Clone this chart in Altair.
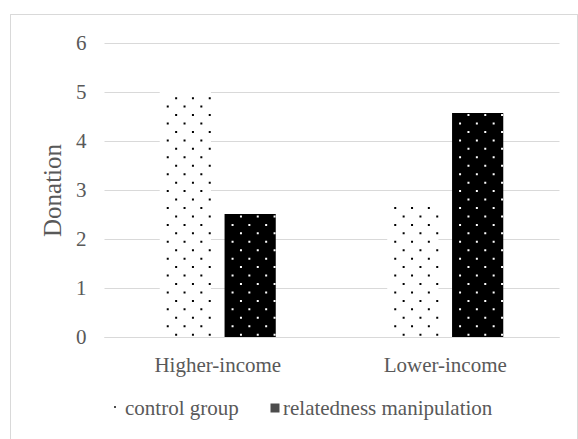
import altair as alt
import pandas as pd

# Mean donation by income group and condition
categories = ["Higher-income", "Lower-income"]
groups = ["control group", "relatedness manipulation"]
control_values = [5.02, 2.67]
relatedness_values = [2.51, 4.57]
y_ticks = [0, 1, 2, 3, 4, 5, 6]

FONT = "Liberation Serif"
TEXT_COLOR = "#595959"
LINE_COLOR = "#d9d9d9"
FONT_SIZE = 21
TITLE_SIZE = 25

bar_records = []
for i, cat in enumerate(categories):
    bar_records.append({"income": cat, "group": groups[0], "donation": control_values[i]})
    bar_records.append({"income": cat, "group": groups[1], "donation": relatedness_values[i]})
bars_df = pd.DataFrame(bar_records)

# Dotted fill pattern: staggered rows of small squares inside each bar.
DOT_FIRST = 0.047   # first dot row above the baseline (data units)
DOT_STEP = 0.1724   # vertical pitch of dot rows (data units)
dot_cols = [-17.6 + 8.4 * j for j in range(6)]  # pixel offsets from bar centre


def row_path(cols):
    return " ".join(f"M{c - 1:.1f},-1h2v2h-2z" for c in cols)


path_odd = row_path(dot_cols[1::2])
path_even = row_path(dot_cols[0::2])

dot_records = []
for rec in bar_records:
    r = 0
    while DOT_FIRST + r * DOT_STEP + 0.03 < rec["donation"]:
        dot_records.append({
            "income": rec["income"],
            "group": rec["group"],
            "level": DOT_FIRST + r * DOT_STEP,
            "row": "odd" if r % 2 == 0 else "even",
            "ink": "#000000" if rec["group"] == groups[0] else "#ffffff",
        })
        r += 1
dots_df = pd.DataFrame(dot_records)
legend_df = pd.DataFrame({"group": groups})

x_enc = alt.X(
    "income:N",
    sort=categories,
    scale=alt.Scale(paddingInner=0.49, paddingOuter=0.245),
    axis=alt.Axis(
        title=None, labelAngle=0, ticks=False, domainColor=LINE_COLOR,
        domainWidth=1, labelFont=FONT, labelFontSize=FONT_SIZE,
        labelColor=TEXT_COLOR, labelPadding=17, grid=False,
    ),
)
xoff_enc = alt.XOffset("group:N", sort=groups, scale=alt.Scale(paddingInner=0.21, paddingOuter=0))
y_scale = alt.Scale(domain=[0, 6], nice=False)

bars = alt.Chart(bars_df).mark_bar(strokeWidth=0).encode(
    x=x_enc,
    xOffset=xoff_enc,
    y=alt.Y(
        "donation:Q",
        scale=y_scale,
        axis=alt.Axis(
            title="Donation", values=y_ticks, format="d", ticks=False, domain=False,
            gridColor=LINE_COLOR, gridWidth=1, labelFont=FONT,
            labelFontSize=FONT_SIZE, labelColor=TEXT_COLOR, labelPadding=18,
            titleFont=FONT, titleFontSize=TITLE_SIZE, titleColor=TEXT_COLOR,
            titleFontWeight="normal", titlePadding=10,
        ),
    ),
    color=alt.Color(
        "group:N",
        sort=groups,
        scale=alt.Scale(domain=groups, range=["#ffffff", "#000000"]),
        legend=None,
    ),
)

dots = alt.Chart(dots_df).mark_point(filled=True, size=4, opacity=1, strokeWidth=0).encode(
    x=alt.X("income:N", sort=categories),
    xOffset=alt.XOffset("group:N", sort=groups),
    y=alt.Y("level:Q", scale=y_scale),
    shape=alt.Shape("row:N", scale=alt.Scale(domain=["odd", "even"], range=[path_odd, path_even]), legend=None),
    fill=alt.Fill("ink:N", scale=None),
)

# Legend row below the axis: a dot swatch for the control group,
# a solid swatch for the manipulation group.
legend_y = 366
key_control = alt.Chart(legend_df).transform_filter(
    alt.datum.group == groups[0]
).mark_square(size=4, filled=True, color="#000000", clip=False).encode(
    x=alt.value(11), y=alt.value(legend_y - 2),
)
key_related = alt.Chart(legend_df).transform_filter(
    alt.datum.group == groups[1]
).mark_square(size=81, filled=True, color="#000000", clip=False).encode(
    x=alt.value(171), y=alt.value(legend_y - 1),
)
label_style = dict(align="left", baseline="middle", font=FONT, fontSize=FONT_SIZE,
                   color=TEXT_COLOR, clip=False)
label_control = alt.Chart(legend_df).transform_filter(
    alt.datum.group == groups[0]
).mark_text(**label_style).encode(
    x=alt.value(21), y=alt.value(legend_y), text="group:N",
)
label_related = alt.Chart(legend_df).transform_filter(
    alt.datum.group == groups[1]
).mark_text(**label_style).encode(
    x=alt.value(179), y=alt.value(legend_y), text="group:N",
)

# Light frame around the whole figure
frame = alt.Chart(legend_df).mark_rect(
    fillOpacity=0, stroke=LINE_COLOR, strokeWidth=1, clip=False
).encode(
    x=alt.value(-93.5), x2=alt.value(473.5), y=alt.value(-28.5), y2=alt.value(420),
)

chart = (
    alt.layer(bars, dots, key_control, key_related, label_control, label_related, frame)
    .properties(
        width=455,
        height=294,
        autosize=alt.AutoSizeParams(type="none"),
        padding={"left": 104, "top": 43, "right": 19, "bottom": 102},
    )
    .configure(background="#ffffff", font=FONT)
    .configure_view(strokeOpacity=0, strokeWidth=0)
)

chart.save("out.html", embed_options={"renderer": "svg", "actions": False})
